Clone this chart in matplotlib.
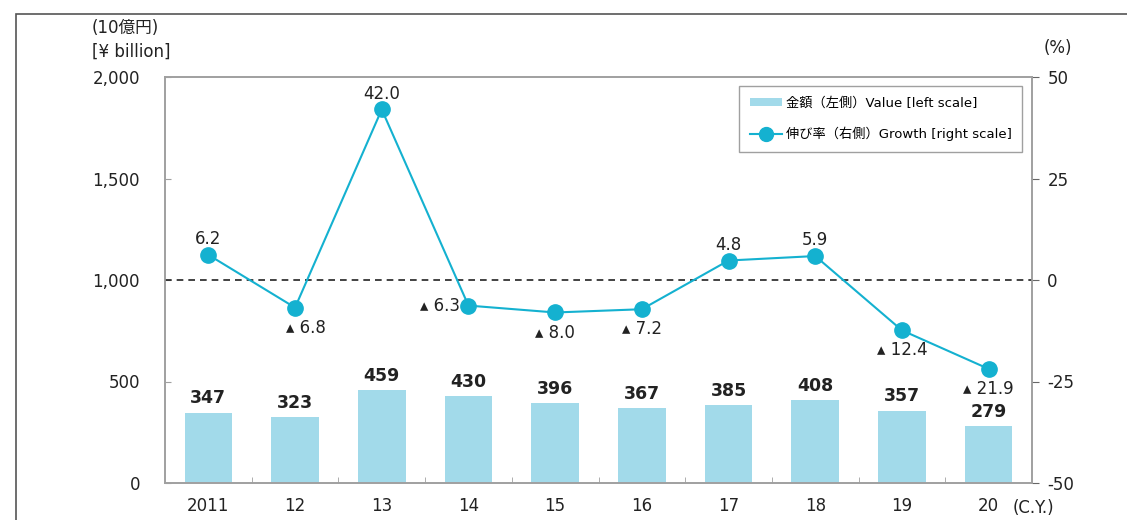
import matplotlib
matplotlib.use("Agg")
import matplotlib.pyplot as plt
from matplotlib.lines import Line2D
from matplotlib.patches import Patch, Rectangle

plt.rcParams['font.family'] = ['DejaVu Sans', 'Noto Sans CJK JP']

categories = ["2011", "12", "13", "14", "15", "16", "17", "18", "19", "20"]
values = [347, 323, 459, 430, 396, 367, 385, 408, 357, 279]
growth = [6.2, -6.8, 42.0, -6.3, -8.0, -7.2, 4.8, 5.9, -12.4, -21.9]
left_ticks = [0, 500, 1000, 1500, 2000]
left_ticklabels = ["0", "500", "1,000", "1,500", "2,000"]
right_ticks = [-50, -25, 0, 25, 50]
right_ticklabels = ["-50", "-25", "0", "25", "50"]

bar_color = "#A2DAEA"
line_color = "#14B1D0"
spine_color = "#A0A0A0"
text_color = "#222222"

W, H = 1127, 520
fig = plt.figure(figsize=(W / 100, H / 100), dpi=100)
ax = fig.add_axes([165 / W, 1 - 483 / H, (1032 - 165) / W, (483 - 77) / H])
ax2 = ax.twinx()

# outer frame
fig.patches.append(Rectangle((16 / W, -0.1), 1.2, 1 - 14 / H + 0.1, transform=fig.transFigure,
                             fill=False, edgecolor="#555555", lw=1.2))

x = list(range(len(categories)))
ax.bar(x, values, width=0.55, color=bar_color, zorder=2)
ax.set_xlim(-0.5, len(categories) - 0.5)
ax.set_ylim(0, 2000)
ax.set_yticks(left_ticks)
ax.set_yticklabels(left_ticklabels, fontsize=12, color=text_color)
ax.set_xticks(x)
ax.set_xticklabels(categories, fontsize=12, color=text_color)
ax.set_xticks([i + 0.5 for i in x[:-1]], minor=True)
ax.tick_params(axis='x', which='major', length=0, pad=10)
ax.tick_params(axis='x', which='minor', length=4, color=spine_color, direction='in')
ax.tick_params(axis='y', length=4, direction='in', color=spine_color, pad=18)

for i, v in enumerate(values):
    ax.text(i, v + 25, f"{v}", ha='center', va='bottom', fontsize=12.5, fontweight='bold', color=text_color)

ax2.set_ylim(-50, 50)
ax2.set_yticks(right_ticks)
ax2.set_yticklabels(right_ticklabels, fontsize=12, color=text_color)
ax2.tick_params(axis='y', length=5, color="#666666", pad=6)
ax2.axhline(0, color="#222222", lw=1.2, ls=(0, (4, 3)), zorder=1)
ax2.plot(x, growth, color=line_color, lw=1.5, marker='o', markersize=11, zorder=3)

for s in list(ax.spines.values()) + list(ax2.spines.values()):
    s.set_color(spine_color)
    s.set_linewidth(1.2)

def fmt(g):
    return f"{g:.1f}" if g >= 0 else f"▴ {abs(g):.1f}"

for i, g in enumerate(growth):
    if i == 3:
        ax2.annotate(fmt(g), (i, g), xytext=(-6, 0), textcoords='offset points',
                     ha='right', va='center', fontsize=12, color=text_color)
    elif g >= 0:
        ax2.annotate(fmt(g), (i, g), xytext=(0, 5), textcoords='offset points',
                     ha='center', va='bottom', fontsize=12, color=text_color)
    else:
        dx = 8 if i == 1 else 0
        ax2.annotate(fmt(g), (i, g), xytext=(dx, -8), textcoords='offset points',
                     ha='center', va='top', fontsize=12, color=text_color)

handles = [Patch(facecolor=bar_color, edgecolor='none'),
           Line2D([0], [0], color=line_color, lw=1.5, marker='o', markersize=10)]
labels = ["金額（左側）Value [left scale]", "伸び率（右側）Growth [right scale]"]
leg = ax2.legend(handles, labels, loc='upper right', bbox_to_anchor=(1022 / W, 1 - 86 / H),
                 bbox_transform=fig.transFigure, fontsize=9.5, frameon=True, fancybox=False,
                 edgecolor="#888888", borderpad=0.8, labelspacing=1.3, handlelength=2.4,
                 handleheight=0.6, handletextpad=0.3, borderaxespad=0)
leg.get_frame().set_linewidth(1.0)

fig.text(92 / W, 1 - 28 / H, "(10億円)", fontsize=12, color=text_color, va='center', ha='left')
fig.text(92 / W, 1 - 52 / H, "[¥ billion]", fontsize=12, color=text_color, va='center', ha='left')
fig.text(1058 / W, 1 - 48 / H, "(%)", fontsize=12, color=text_color, va='center', ha='center')
fig.text(1013 / W, 1 - 508 / H, "(C.Y.)", fontsize=12, color=text_color, va='center', ha='left')

fig.savefig("out.png", dpi=100)
